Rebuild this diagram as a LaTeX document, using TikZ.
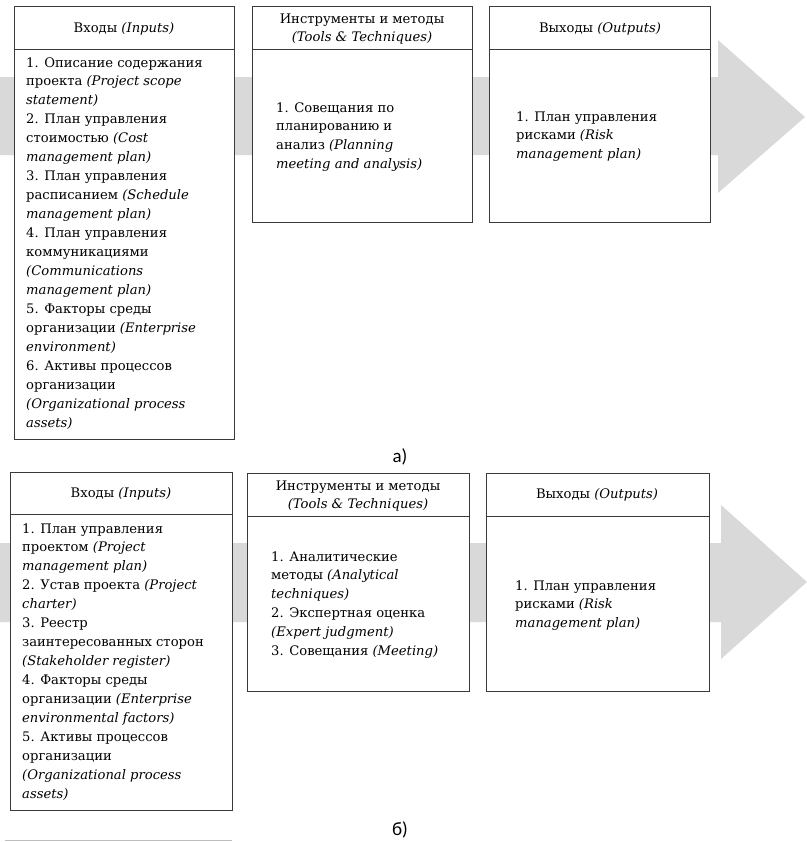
\documentclass[tikz,border=0pt]{standalone}
\usepackage{fontspec}
\setmainfont{DejaVu Serif}
\newfontfamily\labfont{Carlito}
\definecolor{arrowgray}{HTML}{D9D9D9}
\definecolor{boxline}{HTML}{3A3A3A}
\definecolor{rulegray}{HTML}{BFBFBF}
\newcommand\leftlines[1]{\vtop{\halign{##\hfil\cr#1\crcr}}}
\newcommand\centerlines[1]{\vtop{\halign{\hfil##\hfil\cr#1\crcr}}}
\begin{document}
\begin{tikzpicture}[x=1bp,y=-1bp,
  arrowshape/.style={fill=arrowgray, draw=none},
  box/.style={draw=boxline, fill=white, line width=0.9bp, inner sep=0, anchor=north west},
  divider/.style={draw=boxline, line width=0.9bp},
  txt/.style={anchor=base west, inner sep=0, font=\fontsize{13.2}{19.05}\selectfont},
  hdr/.style={anchor=base, inner sep=0, font=\fontsize{13.2}{19.05}\selectfont},
  lab/.style={anchor=base, inner sep=0, font=\labfont\fontsize{19}{22}\selectfont}]
\useasboundingbox (0,0) rectangle (807,842);
% ---------- part a ----------
\fill[arrowshape] (0,77) -- (718,77) -- (718,40) -- (805,117) -- (718,193) -- (718,155) -- (0,155) -- cycle;
\node[box, minimum width=220bp, minimum height=433bp] (inA) at (14,6) {};
\node[box, minimum width=220bp, minimum height=216bp] (toolA) at (252,6) {};
\node[box, minimum width=221bp, minimum height=216bp] (outA) at (489,6) {};
\coordinate (inAh) at (14,49);
\coordinate (toolAh) at (252,49);
\coordinate (outAh) at (489,49);
\draw[divider] (inAh) -- (inAh -| inA.east);
\draw[divider] (toolAh) -- (toolAh -| toolA.east);
\draw[divider] (outAh) -- (outAh -| outA.east);
\node[hdr] (inAt) at (124,32) {Входы \textit{(Inputs)}};
\node[hdr] (toolAt) at (362,23) {\centerlines{Инструменты и методы\cr\textit{(Tools \& Techniques)}}};
\node[hdr] (outAt) at (600,32) {Выходы \textit{(Outputs)}};
\node[txt] (inAb) at (26,67) {\leftlines{1. Описание содержания\cr проекта \textit{(Project scope}\cr\textit{statement)}\cr 2. План управления\cr стоимостью \textit{(Cost}\cr\textit{management plan)}\cr 3. План управления\cr расписанием \textit{(Schedule}\cr\textit{management plan)}\cr 4. План управления\cr коммуникациями\cr\textit{(Communications}\cr\textit{management plan)}\cr 5. Факторы среды\cr организации \textit{(Enterprise}\cr\textit{environment)}\cr 6. Активы процессов\cr организации\cr\textit{(Organizational process}\cr\textit{assets)}}};
\node[txt] (toolAb) at (276,112) {\leftlines{1. Совещания по\cr планированию и\cr анализ \textit{(Planning}\cr\textit{meeting and analysis)}}};
\node[txt] (outAb) at (516,121) {\leftlines{1. План управления\cr рисками \textit{(Risk}\cr\textit{management plan)}}};
\node[lab] (labA) at (400,462) {а)};
% ---------- part b ----------
\fill[arrowshape] (0,543) -- (721,543) -- (721,505) -- (807,582) -- (721,659) -- (721,622) -- (0,622) -- cycle;
\node[box, minimum width=222bp, minimum height=338bp] (inB) at (10,472) {};
\node[box, minimum width=222bp, minimum height=218bp] (toolB) at (247,473) {};
\node[box, minimum width=223bp, minimum height=218bp] (outB) at (486,473) {};
\coordinate (inBh) at (10,514);
\coordinate (toolBh) at (247,516);
\coordinate (outBh) at (486,516);
\draw[divider] (inBh) -- (inBh -| inB.east);
\draw[divider] (toolBh) -- (toolBh -| toolB.east);
\draw[divider] (outBh) -- (outBh -| outB.east);
\node[hdr] (inBt) at (121,497) {Входы \textit{(Inputs)}};
\node[hdr] (toolBt) at (358,490) {\centerlines{Инструменты и методы\cr\textit{(Tools \& Techniques)}}};
\node[hdr] (outBt) at (597,498) {Выходы \textit{(Outputs)}};
\node[txt] (inBb) at (22,533) {\leftlines{1. План управления\cr проектом \textit{(Project}\cr\textit{management plan)}\cr 2. Устав проекта \textit{(Project}\cr\textit{charter)}\cr 3. Реестр\cr заинтересованных сторон\cr\textit{(Stakeholder register)}\cr 4. Факторы среды\cr организации \textit{(Enterprise}\cr\textit{environmental factors)}\cr 5. Активы процессов\cr организации\cr\textit{(Organizational process}\cr\textit{assets)}}};
\node[txt] (toolBb) at (271,561) {\leftlines{1. Аналитические\cr методы \textit{(Analytical}\cr\textit{techniques)}\cr 2. Экспертная оценка\cr\textit{(Expert judgment)}\cr 3. Совещания \textit{(Meeting)}}};
\node[txt] (outBb) at (515,590) {\leftlines{1. План управления\cr рисками \textit{(Risk}\cr\textit{management plan)}}};
\node[lab] (labB) at (400,835) {б)};
\coordinate (ruleL) at (5,840);
\coordinate (ruleR) at (232,840);
\draw[rulegray, line width=1bp] (ruleL) -- (ruleR);
\end{tikzpicture}
\end{document}
